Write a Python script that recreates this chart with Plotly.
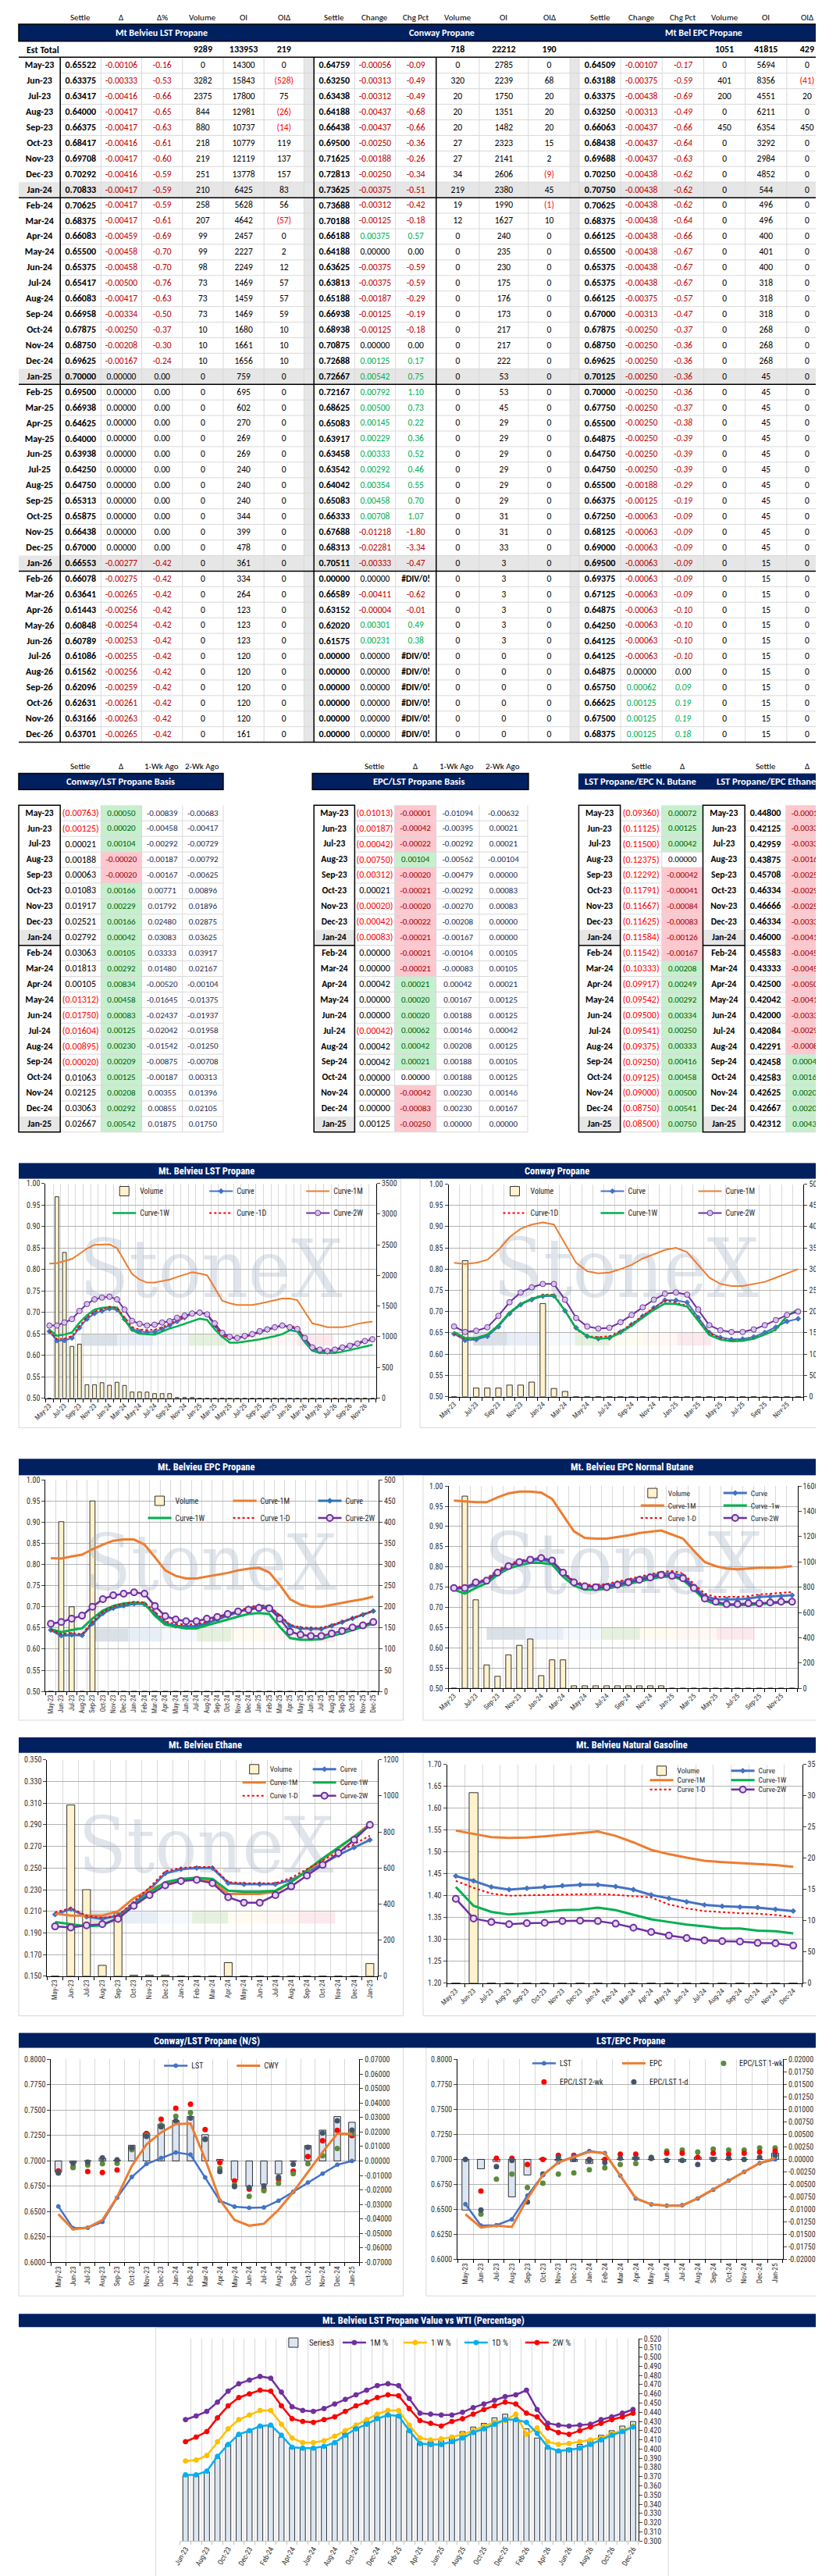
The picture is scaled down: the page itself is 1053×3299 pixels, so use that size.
import plotly.graph_objects as go

W, H = 1053, 3299
def fx(p): return p / W
def fy(p): return 1 - p / H

# ======================= DATA =======================
months = ["May-23","Jun-23","Jul-23","Aug-23","Sep-23","Oct-23","Nov-23","Dec-23",
          "Jan-24","Feb-24","Mar-24","Apr-24","May-24","Jun-24","Jul-24","Aug-24","Sep-24","Oct-24","Nov-24","Dec-24",
          "Jan-25","Feb-25","Mar-25","Apr-25","May-25","Jun-25","Jul-25","Aug-25","Sep-25","Oct-25","Nov-25","Dec-25",
          "Jan-26","Feb-26","Mar-26","Apr-26","May-26","Jun-26","Jul-26","Aug-26","Sep-26","Oct-26","Nov-26","Dec-26"]

est_lst = [9289, 133953, 219]
est_cwy = [718, 22212, 190]
est_epc = [1051, 41815, 429]

lst_settle = [0.65522,0.63375,0.63417,0.64000,0.66375,0.68417,0.69708,0.70292,0.70833,0.70625,0.68375,0.66083,0.65500,0.65375,0.65417,0.66083,0.66958,0.67875,0.68750,0.69625,0.70000,0.69500,0.66938,0.64625,0.64000,0.63938,0.64250,0.64750,0.65313,0.65875,0.66438,0.67000,0.66553,0.66078,0.63641,0.61443,0.60848,0.60789,0.61086,0.61562,0.62096,0.62631,0.63166,0.63701]
lst_chg = [-0.00106,-0.00333,-0.00416,-0.00417,-0.00417,-0.00416,-0.00417,-0.00416,-0.00417,-0.00417,-0.00417,-0.00459,-0.00458,-0.00458,-0.00500,-0.00417,-0.00334,-0.00250,-0.00208,-0.00167,
           0.0,0.0,0.0,0.0,0.0,0.0,0.0,0.0,0.0,0.0,0.0,0.0,
           -0.00277,-0.00275,-0.00265,-0.00256,-0.00254,-0.00253,-0.00255,-0.00256,-0.00259,-0.00261,-0.00263,-0.00265]
lst_pct = [-0.16,-0.53,-0.66,-0.65,-0.63,-0.61,-0.60,-0.59,-0.59,-0.59,-0.61,-0.69,-0.70,-0.70,-0.76,-0.63,-0.50,-0.37,-0.30,-0.24,
           0.0,0.0,0.0,0.0,0.0,0.0,0.0,0.0,0.0,0.0,0.0,0.0,
           -0.42,-0.42,-0.42,-0.42,-0.42,-0.42,-0.42,-0.42,-0.42,-0.42,-0.42,-0.42]
lst_vol = [0,3282,2375,844,880,218,219,251,210,258,207,99,99,98,73,73,73,10,10,10,
           0,0,0,0,0,0,0,0,0,0,0,0,0,0,0,0,0,0,0,0,0,0,0,0]
lst_oi = [14300,15843,17800,12981,10737,10779,12119,13778,6425,5628,4642,2457,2227,2249,1469,1459,1469,1680,1661,1656,
          759,695,602,270,269,269,240,240,240,344,399,478,361,334,264,123,123,123,120,120,120,120,120,161]
lst_oid = [0,-528,75,-26,-14,119,137,157,83,56,-57,0,2,12,57,57,59,10,10,10,
           0,0,0,0,0,0,0,0,0,0,0,0,0,0,0,0,0,0,0,0,0,0,0,0]

cwy_settle = [0.64759,0.63250,0.63438,0.64188,0.66438,0.69500,0.71625,0.72813,0.73625,0.73688,0.70188,0.66188,0.64188,0.63625,0.63813,0.65188,0.66938,0.68938,0.70875,0.72688,
              0.72667,0.72167,0.68625,0.65083,0.63917,0.63458,0.63542,0.64042,0.65083,0.66333,0.67688,0.68313,0.70511,0.00000,0.66589,0.63152,0.62020,0.61575,0.0,0.0,0.0,0.0,0.0,0.0]
cwy_chg = [-0.00056,-0.00313,-0.00312,-0.00437,-0.00437,-0.00250,-0.00188,-0.00250,-0.00375,-0.00312,-0.00125,0.00375,0.00000,-0.00375,-0.00375,-0.00187,-0.00125,-0.00125,0.00000,0.00125,
           0.00542,0.00792,0.00500,0.00145,0.00229,0.00333,0.00292,0.00354,0.00458,0.00708,-0.01218,-0.02281,-0.00333,0.00000,-0.00411,-0.00004,0.00301,0.00231,0.0,0.0,0.0,0.0,0.0,0.0]
cwy_pct = [-0.09,-0.49,-0.49,-0.68,-0.66,-0.36,-0.26,-0.34,-0.51,-0.42,-0.18,0.57,0.00,-0.59,-0.59,-0.29,-0.19,-0.18,0.00,0.17,
           0.75,1.10,0.73,0.22,0.36,0.52,0.46,0.55,0.70,1.07,-1.80,-3.34,-0.47,None,-0.62,-0.01,0.49,0.38,None,None,None,None,None,None]
cwy_vol = [0,320,20,20,20,27,27,34,219,19,12,0,0,0,0,0,0,0,0,0,0,0,0,0,0,0,0,0,0,0,0,0,0,0,0,0,0,0,0,0,0,0,0,0]
cwy_oi = [2785,2239,1750,1351,1482,2323,2141,2606,2380,1990,1627,240,235,230,175,176,173,217,217,222,
          53,53,45,29,29,29,29,29,29,31,31,33,3,3,3,3,3,3,0,0,0,0,0,0]
cwy_oid = [0,68,20,20,20,15,2,-9,45,-1,10,0,0,0,0,0,0,0,0,0,0,0,0,0,0,0,0,0,0,0,0,0,0,0,0,0,0,0,0,0,0,0,0,0]

epc_settle = [0.64509,0.63188,0.63375,0.63250,0.66063,0.68438,0.69688,0.70250,0.70750,0.70625,0.68375,0.66125,0.65500,0.65375,0.65375,0.66125,0.67000,0.67875,0.68750,0.69625,
              0.70125,0.70000,0.67750,0.65500,0.64875,0.64750,0.64750,0.65500,0.66375,0.67250,0.68125,0.69000,0.69500,0.69375,0.67125,0.64875,0.64250,0.64125,0.64125,0.64875,0.65750,0.66625,0.67500,0.68375]
epc_chg = [-0.00107,-0.00375,-0.00438,-0.00313,-0.00437,-0.00437,-0.00437,-0.00438,-0.00438,-0.00438,-0.00438,-0.00438,-0.00438,-0.00438,-0.00438,-0.00375,-0.00313,-0.00250,-0.00250,-0.00250,
           -0.00250,-0.00250,-0.00250,-0.00250,-0.00250,-0.00250,-0.00250,-0.00188,-0.00125,-0.00063,-0.00063,-0.00063,-0.00063,-0.00063,-0.00063,-0.00063,-0.00063,-0.00063,-0.00063,0.00000,0.00062,0.00125,0.00125,0.00125]
epc_pct = [-0.17,-0.59,-0.69,-0.49,-0.66,-0.64,-0.63,-0.62,-0.62,-0.62,-0.64,-0.66,-0.67,-0.67,-0.67,-0.57,-0.47,-0.37,-0.36,-0.36,
           -0.36,-0.36,-0.37,-0.38,-0.39,-0.39,-0.39,-0.29,-0.19,-0.09,-0.09,-0.09,-0.09,-0.09,-0.09,-0.10,-0.10,-0.10,-0.10,0.00,0.09,0.19,0.19,0.18]
epc_vol = [0,401,200,0,450,0,0,0,0,0,0,0,0,0,0,0,0,0,0,0,0,0,0,0,0,0,0,0,0,0,0,0,0,0,0,0,0,0,0,0,0,0,0,0]
epc_oi = [5694,8356,4551,6211,6354,3292,2984,4852,544,496,496,400,401,400,318,318,318,268,268,268,
          45,45,45,45,45,45,45,45,45,45,45,45,15,15,15,15,15,15,15,15,15,15,15,15]
epc_oid = [0,-41,20,0,450,0,0,0,0,0,0,0,0,0,0,0,0,0,0,0,0,0,0,0,0,0,0,0,0,0,0,0,0,0,0,0,0,0,0,0,0,0,0,0]

# ---- basis tables (May-23 .. Jan-25) ----
bm = months[:21]
cl_settle = [-0.00763,-0.00125,0.00021,0.00188,0.00063,0.01083,0.01917,0.02521,0.02792,0.03063,0.01813,0.00105,-0.01312,-0.01750,-0.01604,-0.00895,-0.00020,0.01063,0.02125,0.03063,0.02667]
cl_delta = [0.00050,0.00020,0.00104,-0.00020,-0.00020,0.00166,0.00229,0.00166,0.00042,0.00105,0.00292,0.00834,0.00458,0.00083,0.00125,0.00230,0.00209,0.00125,0.00208,0.00292,0.00542]
cl_1wk = [-0.00839,-0.00458,-0.00292,-0.00187,-0.00167,0.00771,0.01792,0.02480,0.03083,0.03333,0.01480,-0.00520,-0.01645,-0.02437,-0.02042,-0.01542,-0.00875,-0.00187,0.00355,0.00855,0.01875]
cl_2wk = [-0.00683,-0.00417,-0.00729,-0.00792,-0.00625,0.00896,0.01896,0.02875,0.03625,0.03917,0.02167,-0.00104,-0.01375,-0.01937,-0.01958,-0.01250,-0.00708,0.00313,0.01396,0.02105,0.01750]

el_settle = [-0.01013,-0.00187,-0.00042,-0.00750,-0.00312,0.00021,-0.00020,-0.00042,-0.00083,0.00000,0.00000,0.00042,0.00000,0.00000,-0.00042,0.00042,0.00042,0.00000,0.00000,0.00000,0.00125]
el_delta = [-0.00001,-0.00042,-0.00022,0.00104,-0.00020,-0.00021,-0.00020,-0.00022,-0.00021,-0.00021,-0.00021,0.00021,0.00020,0.00020,0.00062,0.00042,0.00021,0.00000,-0.00042,-0.00083,-0.00250]
el_1wk = [-0.01094,-0.00395,-0.00292,-0.00562,-0.00479,-0.00292,-0.00270,-0.00208,-0.00167,-0.00104,-0.00083,0.00042,0.00167,0.00188,0.00146,0.00208,0.00188,0.00188,0.00230,0.00230,0.00000]
el_2wk = [-0.00632,0.00021,0.00021,-0.00104,0.00000,0.00083,0.00083,0.00000,0.00000,0.00105,0.00105,0.00021,0.00125,0.00125,0.00042,0.00125,0.00105,0.00125,0.00146,0.00167,0.00000]

nb_settle = [-0.09360,-0.11125,-0.11500,-0.12375,-0.12292,-0.11791,-0.11667,-0.11625,-0.11584,-0.11542,-0.10333,-0.09917,-0.09542,-0.09500,-0.09541,-0.09375,-0.09250,-0.09125,-0.09000,-0.08750,-0.08500]
nb_delta = [0.00072,0.00125,0.00042,0.00000,-0.00042,-0.00041,-0.00084,-0.00083,-0.00126,-0.00167,0.00208,0.00249,0.00292,0.00334,0.00250,0.00333,0.00416,0.00458,0.00500,0.00541,0.00750]
et_settle = [0.44800,0.42125,0.42959,0.43875,0.45708,0.46334,0.46666,0.46334,0.46000,0.45583,0.43333,0.42500,0.42042,0.42000,0.42084,0.42291,0.42458,0.42583,0.42625,0.42667,0.42312]
et_delta = [-0.00013,-0.00333,-0.00332,-0.00167,-0.00251,-0.00291,-0.00251,-0.00332,-0.00417,-0.00459,-0.00459,-0.00500,-0.00416,-0.00333,-0.00291,-0.00084,0.00041,0.00166,0.00209,0.00208,0.00437]

# ---- chart A: Mt. Belvieu LST Propane (44 months) ----
lst_1d = [0.65628,0.63708,0.63833,0.64417,0.66792,0.68833,0.70125,0.70708,0.71250,0.71042,0.68792,0.66542,0.65958,0.65833,0.65917,0.66500,0.67292,0.68125,0.68958,0.69792,
          0.70000,0.69500,0.66938,0.64625,0.64000,0.63938,0.64250,0.64750,0.65313,0.65875,0.66438,0.67000,0.66830,0.66353,0.63906,0.61699,0.61102,0.61042,0.61341,0.61818,0.62355,0.62892,0.63429,0.63966]
lst_1w = [0.659,0.645,0.648,0.653,0.676,0.693,0.706,0.710,0.712,0.711,0.682,0.658,0.650,0.649,0.648,0.655,0.662,0.667,0.673,0.679,
          0.685,0.682,0.660,0.643,0.629,0.629,0.631,0.634,0.637,0.640,0.644,0.649,0.658,0.655,0.630,0.610,0.605,0.605,0.605,0.608,0.612,0.616,0.620,0.624]
lst_2w = [0.669,0.669,0.676,0.684,0.703,0.719,0.730,0.734,0.736,0.730,0.706,0.680,0.673,0.669,0.671,0.676,0.679,0.687,0.692,0.697,
          0.699,0.695,0.674,0.652,0.643,0.640,0.645,0.649,0.656,0.660,0.665,0.669,0.665,0.661,0.640,0.618,0.613,0.610,0.613,0.618,0.622,0.627,0.633,0.637]
lst_1m = [0.813,0.814,0.819,0.824,0.836,0.848,0.857,0.858,0.858,0.849,0.820,0.789,0.776,0.769,0.769,0.772,0.776,0.782,0.788,0.793,
          0.790,0.786,0.757,0.727,0.721,0.717,0.717,0.717,0.720,0.724,0.728,0.732,0.732,0.728,0.701,0.674,0.670,0.665,0.665,0.665,0.668,0.673,0.676,0.678]

# ---- chart B: Conway Propane (32 months) ----
cwy_1d = [0.64815,0.63563,0.63750,0.64625,0.66875,0.69750,0.71813,0.73063,0.74000,0.74000,0.70313,0.65813,0.64188,0.64000,0.64188,0.65375,
          0.67063,0.69063,0.70875,0.72563,0.72125,0.71375,0.68125,0.64938,0.63688,0.63125,0.63250,0.63688,0.64625,0.65625,0.68906,0.70594]
cwy_1w = [0.652,0.638,0.638,0.646,0.668,0.698,0.718,0.730,0.738,0.738,0.702,0.660,0.642,0.636,0.638,0.650,
          0.667,0.686,0.704,0.719,0.718,0.712,0.678,0.645,0.634,0.630,0.631,0.636,0.646,0.658,0.690,0.705]
cwy_2w = [0.665,0.652,0.655,0.663,0.690,0.722,0.745,0.757,0.765,0.765,0.728,0.685,0.665,0.660,0.662,0.675,
          0.692,0.710,0.728,0.742,0.745,0.740,0.705,0.668,0.656,0.652,0.652,0.658,0.668,0.680,0.692,0.700]
cwy_1m = [0.815,0.812,0.815,0.822,0.845,0.875,0.895,0.905,0.910,0.905,0.860,0.815,0.795,0.790,0.792,0.800,
          0.810,0.825,0.835,0.845,0.850,0.840,0.810,0.780,0.765,0.760,0.760,0.765,0.770,0.780,0.790,0.800]

# ---- chart C: Mt. Belvieu EPC Propane (32 months) ----
epc_1d = [0.64616,0.63563,0.63813,0.63563,0.66500,0.68875,0.70125,0.70688,0.71188,0.71063,0.68813,0.66563,0.65938,0.65813,0.65813,0.66500,
          0.67313,0.68125,0.69000,0.69875,0.70375,0.70250,0.68000,0.65750,0.65125,0.65000,0.65000,0.65688,0.66500,0.67313,0.68188,0.69063]
epc_1w = [0.647,0.640,0.645,0.649,0.672,0.691,0.702,0.708,0.710,0.708,0.679,0.658,0.653,0.649,0.649,0.656,
          0.664,0.670,0.677,0.683,0.685,0.683,0.653,0.626,0.622,0.622,0.624,0.631,0.637,0.645,0.653,0.660]
epc_2w = [0.660,0.664,0.672,0.679,0.700,0.718,0.727,0.731,0.734,0.731,0.702,0.678,0.670,0.666,0.666,0.672,
          0.676,0.683,0.689,0.693,0.697,0.696,0.672,0.641,0.634,0.631,0.631,0.637,0.643,0.651,0.656,0.664]
epc_1m = [0.815,0.814,0.819,0.823,0.836,0.847,0.856,0.859,0.859,0.847,0.817,0.786,0.773,0.767,0.767,0.771,
          0.775,0.780,0.786,0.790,0.792,0.781,0.752,0.718,0.705,0.700,0.700,0.705,0.710,0.714,0.718,0.724]

# ---- chart D: Mt. Belvieu EPC Normal Butane (32 months) ----
nb_curve = [0.748,0.746,0.756,0.768,0.788,0.802,0.812,0.816,0.818,0.812,0.784,0.762,0.752,0.752,0.754,0.760,
            0.766,0.772,0.778,0.784,0.784,0.778,0.752,0.728,0.720,0.720,0.720,0.722,0.726,0.727,0.728,0.730]
nb_1d = [0.752,0.750,0.760,0.772,0.792,0.806,0.816,0.820,0.822,0.816,0.788,0.766,0.756,0.756,0.758,0.764,
         0.770,0.776,0.782,0.788,0.790,0.784,0.758,0.734,0.726,0.726,0.726,0.728,0.732,0.734,0.736,0.738]
nb_1w = [0.744,0.734,0.748,0.760,0.780,0.796,0.804,0.810,0.810,0.806,0.776,0.754,0.744,0.744,0.746,0.752,
         0.758,0.764,0.770,0.776,0.776,0.768,0.744,0.718,0.708,0.706,0.706,0.706,0.708,0.710,0.712,0.714]
nb_2w = [0.748,0.748,0.762,0.766,0.786,0.802,0.812,0.818,0.822,0.816,0.786,0.762,0.752,0.750,0.750,0.756,
         0.762,0.768,0.774,0.780,0.778,0.772,0.748,0.722,0.714,0.708,0.708,0.710,0.710,0.712,0.714,0.714]
nb_1m = [0.964,0.962,0.960,0.960,0.972,0.982,0.986,0.986,0.984,0.968,0.928,0.888,0.872,0.870,0.870,0.874,
         0.878,0.884,0.887,0.890,0.880,0.870,0.840,0.812,0.802,0.796,0.794,0.796,0.798,0.798,0.799,0.802]
nb_vol = [0,1520,700,185,95,265,340,390,100,225,225,20,20,20,20,20,20,20,20,20,0,0,0,0,0,0,0,0,0,0,0,0]

# ---- chart E: Mt. Belvieu Ethane (21 months) ----
eth_curve = [0.207,0.212,0.205,0.203,0.206,0.217,0.230,0.245,0.249,0.250,0.250,0.236,0.235,0.235,0.235,0.239,0.246,0.254,0.262,0.269,0.276]
eth_1d = [0.209,0.213,0.206,0.204,0.206,0.219,0.232,0.247,0.250,0.251,0.251,0.237,0.236,0.236,0.236,0.241,0.249,0.257,0.265,0.272,0.280]
eth_1w = [0.200,0.198,0.196,0.197,0.204,0.215,0.227,0.237,0.240,0.241,0.240,0.229,0.228,0.228,0.229,0.237,0.248,0.259,0.269,0.279,0.289]
eth_2w = [0.196,0.195,0.197,0.198,0.203,0.215,0.225,0.234,0.238,0.239,0.236,0.223,0.218,0.218,0.225,0.233,0.243,0.253,0.264,0.276,0.290]
eth_1m = [0.208,0.206,0.206,0.206,0.210,0.222,0.230,0.236,0.239,0.240,0.238,0.226,0.226,0.226,0.228,0.237,0.247,0.258,0.268,0.279,0.291]
eth_vol = [0,950,480,60,350,5,5,5,0,0,0,75,0,0,0,0,0,0,0,0,70]

# ---- chart F: Mt. Belvieu Natural Gasoline (20 months) ----
ng_curve = [1.445,1.434,1.420,1.414,1.417,1.420,1.423,1.425,1.425,1.421,1.414,1.402,1.394,1.386,1.379,1.376,1.374,1.373,1.369,1.365]
ng_1d = [1.434,1.418,1.405,1.400,1.401,1.402,1.403,1.404,1.404,1.402,1.399,1.396,1.380,1.371,1.365,1.362,1.360,1.359,1.356,1.351]
ng_1w = [1.420,1.377,1.363,1.357,1.360,1.363,1.367,1.368,1.373,1.367,1.356,1.346,1.340,1.334,1.330,1.325,1.325,1.320,1.319,1.314]
ng_2w = [1.393,1.348,1.340,1.335,1.337,1.338,1.342,1.343,1.342,1.336,1.327,1.317,1.309,1.303,1.298,1.296,1.295,1.292,1.291,1.286]
ng_1m = [1.549,1.542,1.534,1.532,1.533,1.536,1.540,1.544,1.547,1.537,1.522,1.505,1.495,1.487,1.480,1.477,1.475,1.473,1.470,1.466]
ng_vol = [0,305,0,0,0,0,0,0,0,0,0,0,0,0,0,0,0,0,0,0]

# ---- chart G: Conway/LST (N/S) dots ----
cl_1d = [-0.00813,-0.00145,-0.00083,0.00208,0.00083,0.00917,0.01688,0.02355,0.02750,0.02958,0.01521,-0.00729,-0.01770,-0.01833,-0.01729,-0.01125,-0.00229,0.00938,0.01917,0.02771,0.02125]

# ---- chart H: LST/EPC dots (plotted one month later) ----
el_1d_plot = [0.0,-0.01012,-0.00145,-0.00020,-0.00854,-0.00292,0.00042,0.00000,-0.00020,-0.00062,0.00021,0.00021,0.00021,-0.00020,-0.00020,-0.00104,0.00000,0.00021,0.00000,0.00042,0.00083]
el_1w_plot = [None,-0.01094,-0.00395,-0.00292,-0.00562,-0.00479,-0.00292,-0.00270,-0.00208,-0.00167,-0.00104,-0.00083,0.00042,0.00167,0.00188,0.00146,0.00208,0.00188,0.00188,0.00230,0.00230]
el_2w_plot = [None,-0.00632,0.00021,0.00021,-0.00104,0.00000,0.00083,0.00083,0.00000,0.00000,0.00105,0.00105,0.00021,0.00125,0.00125,0.00042,0.00125,0.00105,0.00125,0.00146,0.00167]

# ---- chart I: LST Propane value vs WTI (Jun-23 .. Dec-26) ----
wti_months = months[1:]
wti_bar = [0.371,0.371,0.375,0.390,0.405,0.415,0.420, 0.425,0.425,0.413,0.402,0.400,0.400,0.402,0.407,0.417,0.423,0.430,0.435,
           0.438,0.437,0.420,0.407,0.408,0.409,0.412,0.419,0.424,0.428,0.434,0.438, 0.432,0.422,0.412,0.402,0.399,0.401,0.405,0.410,0.415,0.420,0.425,0.430]
wti_1m = [0.432,0.436,0.441,0.451,0.463,0.471,0.475, 0.479,0.477,0.462,0.446,0.442,0.441,0.444,0.449,0.454,0.459,0.464,0.469,
          0.471,0.469,0.455,0.439,0.438,0.437,0.437,0.440,0.445,0.449,0.453,0.457, 0.459,0.464,0.443,0.428,0.426,0.425,0.426,0.427,0.432,0.435,0.439,0.443]
wti_1w = [0.387,0.388,0.393,0.408,0.422,0.432,0.437, 0.442,0.442,0.427,0.412,0.407,0.407,0.409,0.414,0.420,0.426,0.432,0.438,
          0.442,0.442,0.426,0.412,0.410,0.411,0.413,0.416,0.420,0.425,0.429,0.431, 0.438,0.416,0.423,0.408,0.405,0.406,0.408,0.410,0.412,0.417,0.420,0.425]
wti_1d = [0.372,0.372,0.376,0.392,0.405,0.416,0.420, 0.425,0.426,0.415,0.402,0.401,0.401,0.403,0.407,0.415,0.422,0.427,0.433,
          0.437,0.436,0.420,0.406,0.405,0.405,0.408,0.412,0.418,0.422,0.427,0.432, 0.432,0.429,0.417,0.402,0.398,0.399,0.401,0.405,0.410,0.415,0.419,0.424]
wti_2w = [0.408,0.413,0.419,0.434,0.447,0.456,0.460, 0.464,0.463,0.447,0.433,0.430,0.429,0.432,0.435,0.441,0.447,0.451,0.456,
          0.459,0.458,0.444,0.431,0.428,0.425,0.430,0.433,0.438,0.443,0.447,0.451, 0.449,0.439,0.435,0.423,0.418,0.416,0.420,0.424,0.428,0.432,0.435,0.439]

# ======================= STYLE =======================
NAVY = "#002060"
TFONT = "Carlito, Calibri, Roboto, sans-serif"
CFONT = "'Liberation Sans Narrow', 'Roboto Condensed', Roboto, sans-serif"
RED, GREEN, BLK = "#c00000", "#00b050", "#000000"
GREY = "#e7e6e6"
GRID = "#d9d9d9"
C_BLUE, C_ORANGE, C_GREEN, C_RED, C_PURPLE = "#4472c4", "#ed7d31", "#00b050", "#ff0000", "#7030a0"

shapes, annotations, traces = [], [], []
layout_axes, legends = {}, {}

def ann(text, x, y, size=11, color="black", bold=False, xanchor="center", family=TFONT):
    annotations.append(dict(text=f"<b>{text}</b>" if bold else text, x=fx(x), y=fy(y), xref="paper", yref="paper",
                            showarrow=False, xanchor=xanchor, yanchor="middle",
                            font=dict(size=size, color=color, family=family)))

def rect(x0, y0, x1, y1, fill=None, line=None, lw=1, layer="above"):
    shapes.append(dict(type="rect", xref="paper", yref="paper", x0=fx(x0), x1=fx(x1), y0=fy(y1), y1=fy(y0),
                       fillcolor=fill or "rgba(0,0,0,0)",
                       line=dict(color=line or "rgba(0,0,0,0)", width=lw if line else 0), layer=layer))

def seg(x0, y0, x1, y1, color="black", lw=1.5, layer="above"):
    shapes.append(dict(type="line", xref="paper", yref="paper", x0=fx(x0), y0=fy(y0), x1=fx(x1), y1=fy(y1),
                       line=dict(color=color, width=lw), layer=layer))

def sgn(v, pos=GREEN, neg=RED):
    return neg if v < 0 else (pos if v > 0 else BLK)

def oi_txt(v):
    return f"({abs(v)})" if v < 0 else f"{v}"

# text cells drawn on a hidden pixel-scaled subplot
cx, cy, ct, cc, cs = [], [], [], [], []
def cell(x, y, text, color=BLK, size=11.5):
    cx.append(x); cy.append(y); ct.append(text); cc.append(color); cs.append(size)

# ======================= TOP TABLE =======================
n = len(months)
jan_rows = [i for i, m in enumerate(months) if m.startswith("Jan")]
cols, fcols, gaps, sizes = [], [], [], []
def addcol(vals, colors, gap=False, size=11.5):
    cols.append(vals); fcols.append(colors); gaps.append(gap); sizes.append(size)

addcol([f"<b>{m}</b>" for m in months], [BLK] * n, size=12)
addcol([f"<b>{v:.5f}</b>" for v in lst_settle], [BLK] * n, size=12)
addcol([f"{v:.5f}" for v in lst_chg], [sgn(v) for v in lst_chg])
addcol([f"{v:.2f}" for v in lst_pct], [sgn(v) for v in lst_pct])
addcol([str(v) for v in lst_vol], [BLK] * n)
addcol([str(v) for v in lst_oi], [BLK] * n)
addcol([oi_txt(v) for v in lst_oid], ["#ff0000" if v < 0 else BLK for v in lst_oid])
addcol([""] * n, [BLK] * n, True)
addcol([f"<b>{v:.5f}</b>" for v in cwy_settle], [BLK] * n, size=12)
addcol([f"{v:.5f}" for v in cwy_chg], [sgn(v) for v in cwy_chg])
addcol(["<b>#DIV/0!</b>" if v is None else f"{v:.2f}" for v in cwy_pct], [BLK if v is None else sgn(v) for v in cwy_pct])
addcol([str(v) for v in cwy_vol], [BLK] * n)
addcol([str(v) for v in cwy_oi], [BLK] * n)
addcol([oi_txt(v) for v in cwy_oid], ["#ff0000" if v < 0 else BLK for v in cwy_oid])
addcol([""] * n, [BLK] * n, True)
addcol([f"<b>{v:.5f}</b>" for v in epc_settle], [BLK] * n, size=12)
addcol([f"{v:.5f}" for v in epc_chg], [sgn(v) for v in epc_chg])
addcol([f"<i>{v:.2f}</i>" for v in epc_pct], [sgn(v) for v in epc_pct])
addcol([str(v) for v in epc_vol], [BLK] * n)
addcol([str(v) for v in epc_oi], [BLK] * n)
addcol([oi_txt(v) for v in epc_oid], ["#ff0000" if v < 0 else BLK for v in epc_oid])

colw = [54, 53, 53, 53, 53, 53, 52, 13, 53, 53, 53, 56, 64, 54, 12, 54, 54, 54, 54, 54, 53]
edges = [0]
for w_ in colw:
    edges.append(edges[-1] + w_)
ROW0, RH = 60, 20

# backgrounds
for r in jan_rows:
    rect(0, ROW0 + RH * r, edges[-1], ROW0 + RH * (r + 1), fill=GREY, layer="below")
for c, g in enumerate(gaps):
    if g:
        rect(edges[c], ROW0, edges[c + 1], ROW0 + RH * n, fill=GREY, layer="below")
# light grid
for r in range(1, n):
    seg(edges[1], ROW0 + RH * r, edges[-1], ROW0 + RH * r, color=GRID, lw=1, layer="below")
for c in range(2, len(edges)):
    if edges[c] not in (384, 543):
        seg(edges[c], ROW0, edges[c], ROW0 + RH * n, color=GRID, lw=1, layer="below")
# cell texts
for c, vals in enumerate(cols):
    xc = (edges[c] + edges[c + 1]) / 2
    for r, t in enumerate(vals):
        if t:
            cell(xc, ROW0 + RH * r + 10.5, t, fcols[c][r], sizes[c])
est_cells = [(4, est_lst[0]), (5, est_lst[1]), (6, est_lst[2]), (11, est_cwy[0]), (12, est_cwy[1]), (13, est_cwy[2]),
             (18, est_epc[0]), (19, est_epc[1]), (20, est_epc[2])]
for c, v in est_cells:
    cell((edges[c] + edges[c + 1]) / 2, 50, f"<b>{v}</b>", BLK, 12)

labels_top = ["", "Settle", "Δ", "Δ%", "Volume", "OI", "OIΔ", "", "Settle", "Change", "Chg Pct", "Volume", "OI", "OIΔ", "",
              "Settle", "Change", "Chg Pct", "Volume", "OI", "OIΔ"]
for i, lab in enumerate(labels_top):
    if lab:
        ann(lab, (edges[i] + edges[i + 1]) / 2, 9, size=11)
rect(0, 17, 1053, 39, fill=NAVY, line="black", lw=1.5)
ann("Mt Belvieu LST Propane", 186, 28, size=12, color="white", bold=True)
ann("Conway Propane", 550, 28, size=12, color="white", bold=True)
ann("Mt Bel EPC Propane", 891, 28, size=12, color="white", bold=True)
ann("Est Total", 8, 50, size=12, bold=True, xanchor="left")
for yy in [59.5, 240, 480, 720, 940]:
    seg(0, yy, 1052, yy)
for xx in [54, 384, 543]:
    seg(xx, 59.5, xx, 940)

# ======================= BASIS TABLES =======================
bn = len(bm)
jan_b = [i for i, m in enumerate(bm) if m.startswith("Jan")]
def paren(v): return f"({abs(v):.5f})" if v < 0 else f"{v:.5f}"
def pcol(v): return "#ff0000" if v < 0 else BLK
def dfill(v): return "#c6efce" if v > 0 else ("#ffc7ce" if v < 0 else None)
def dfont(v): return "#006100" if v > 0 else ("#9c0006" if v < 0 else BLK)
NAVYT = "#1f2d4d"
BROW0 = 1021

def basis_block(e, columns, fonts, fillcols, sizes_, label_cols):
    # e: column edges
    for c in range(len(columns)):
        if c in label_cols:
            for r in jan_b:
                rect(e[c], BROW0 + RH * r, e[c + 1], BROW0 + RH * (r + 1), fill=GREY, layer="below")
        elif fillcols[c] is not None:
            for r in range(bn):
                fc = fillcols[c][r]
                if fc:
                    rect(e[c], BROW0 + RH * r, e[c + 1], BROW0 + RH * (r + 1), fill=fc, layer="below")
    for c in range(len(columns)):
        if c in label_cols:
            continue
        for r in range(1, bn + 1):
            seg(e[c], BROW0 + RH * r, e[c + 1], BROW0 + RH * r, color=GRID, lw=1, layer="below")
        seg(e[c + 1], BROW0, e[c + 1], BROW0 + RH * bn, color=GRID, lw=1, layer="below")
    for c, vals in enumerate(columns):
        xc = (e[c] + e[c + 1]) / 2
        for r, t in enumerate(vals):
            cell(xc, BROW0 + RH * r + 10.5, t, fonts[c][r], sizes_[c])
    for c in label_cols:
        rect(e[c], BROW0, e[c + 1], BROW0 + RH * bn, line="black", lw=1.5)
        seg(e[c], BROW0 + RH * 9, e[c + 1], BROW0 + RH * 9)

lab_vals = [f"<b>{m}</b>" for m in bm]
basis_block([0, 54, 107, 160, 213, 266],
            [lab_vals, [paren(v) for v in cl_settle], [f"{v:.5f}" for v in cl_delta],
             [f"{v:.5f}" for v in cl_1wk], [f"{v:.5f}" for v in cl_2wk]],
            [[BLK] * bn, [pcol(v) for v in cl_settle], [dfont(v) for v in cl_delta], [NAVYT] * bn, [NAVYT] * bn],
            [None, None, [dfill(v) for v in cl_delta], None, None], [11.5, 12, 11, 11, 11], [0])
basis_block([384, 437, 489, 543, 599, 662],
            [lab_vals, [paren(v) for v in el_settle], [f"{v:.5f}" for v in el_delta],
             [f"{v:.5f}" for v in el_1wk], [f"{v:.5f}" for v in el_2wk]],
            [[BLK] * bn, [pcol(v) for v in el_settle], [dfont(v) for v in el_delta], [NAVYT] * bn, [NAVYT] * bn],
            [None, None, [dfill(v) for v in el_delta], None, None], [11.5, 12, 11, 11, 11], [0])
basis_block([728.5, 782.5, 836.5, 890, 944.5, 998, 1052],
            [lab_vals, [paren(v) for v in nb_settle], [f"{v:.5f}" for v in nb_delta],
             lab_vals, [f"<b>{v:.5f}</b>" for v in et_settle], [f"{v:.5f}" for v in et_delta]],
            [[BLK] * bn, [pcol(v) for v in nb_settle], [dfont(v) for v in nb_delta],
             [BLK] * bn, [BLK] * bn, [dfont(v) for v in et_delta]],
            [None, None, [dfill(v) for v in nb_delta], None, None, [dfill(v) for v in et_delta]],
            [11.5, 12, 11, 11.5, 12, 11], [0, 3])

rect(0, 980, 266, 1001, fill=NAVY, line="black", lw=1.5)
rect(382, 980, 663, 1001, fill=NAVY, line="black", lw=1.5)
rect(728, 980, 1053, 1001, fill=NAVY)
ann("Conway/LST Propane Basis", 133, 990.5, size=12.5, color="white", bold=True)
ann("EPC/LST Propane Basis", 520, 990.5, size=12.5, color="white", bold=True)
ann("LST Propane/EPC N. Butane", 809, 990.5, size=12.5, color="white", bold=True)
ann("LST Propane/EPC Ethane", 972, 990.5, size=12.5, color="white", bold=True)
for lab, xx in [("Settle", 80), ("Δ", 133), ("1-Wk Ago", 186), ("2-Wk Ago", 239),
                ("Settle", 463), ("Δ", 516), ("1-Wk Ago", 570), ("2-Wk Ago", 630),
                ("Settle", 810), ("Δ", 863), ("Settle", 972), ("Δ", 1026)]:
    ann(lab, xx, 971, size=11)

# hidden pixel subplot for the table texts
layout_axes["xaxis10"] = dict(domain=[0, 1], anchor="y19", range=[0, W], visible=False, fixedrange=True)
layout_axes["yaxis19"] = dict(domain=[fy(1445), 1], anchor="x10", range=[1445, 0], visible=False, fixedrange=True)
traces.append(go.Scatter(x=cx, y=cy, text=ct, mode="text", textposition="middle center",
                         textfont=dict(family=TFONT, size=cs, color=cc), xaxis="x10", yaxis="y19",
                         showlegend=False, hoverinfo="skip", cliponaxis=False))

# ======================= CHARTS =======================
leg_counter = [0]
def new_legend(x, y, ew, size=10):
    leg_counter[0] += 1
    name = "legend" if leg_counter[0] == 1 else f"legend{leg_counter[0]}"
    legends[name] = dict(orientation="h", x=fx(x), y=fy(y), xanchor="left", yanchor="middle",
                         bgcolor="rgba(0,0,0,0)", borderwidth=0,
                         font=dict(family=CFONT, size=size, color="#262626"),
                         itemwidth=30, entrywidth=ew, entrywidthmode="pixels",
                         tracegroupgap=0, itemclick=False, itemdoubleclick=False)
    return name

def ticks_for(rng, d, fmt):
    k = int(round((rng[1] - rng[0]) / d))
    vals = []
    for i in range(k + 1):
        v = round(rng[0] + i * d, 6)
        if abs(v) < 1e-12:
            v = 0.0
        vals.append(v)
    if fmt == "d":
        txt = [f"{int(round(v))}" for v in vals]
    else:
        txt = [format(v, fmt) for v in vals]
    return vals, txt

def make_axes(k, cats, L, R, T, B, step, angle, rspec, lspec=None, xfont=9, xline="black"):
    nn = len(cats)
    xr = "x" if k == 1 else f"x{k}"
    yb, yo = 2 * k - 1, 2 * k
    ybr = "y" if yb == 1 else f"y{yb}"
    yor = f"y{yo}"
    layout_axes["xaxis" if k == 1 else f"xaxis{k}"] = dict(
        domain=[fx(L), fx(R)], anchor=ybr, range=[-0.5, nn - 0.5],
        tickmode="array", tickvals=list(range(0, nn, step)), ticktext=cats[::step],
        tickangle=angle, showgrid=False, zeroline=False, showline=True, linecolor=xline, linewidth=1,
        ticks="", tickfont=dict(size=xfont, family=CFONT, color="#333333"), fixedrange=True,
        minor=dict(tickmode="array", tickvals=[i + 0.5 for i in range(-1, nn)], showgrid=True,
                   gridcolor=GRID, gridwidth=1, ticks="outside", ticklen=4, tickcolor=xline))
    rv, rt = ticks_for(rspec["range"], rspec["dtick"], rspec["fmt"])
    layout_axes["yaxis" if yb == 1 else f"yaxis{yb}"] = dict(
        domain=[fy(B), fy(T)], anchor=xr, side="right", range=rspec["range"],
        tickmode="array", tickvals=rv, ticktext=rt, showgrid=rspec.get("grid", False),
        gridcolor="#b3b3b3", zeroline=False, showline=True, linecolor="black", linewidth=1,
        ticks="outside", ticklen=4, tickfont=dict(size=rspec.get("size", 10), family=CFONT, color="#333333"),
        fixedrange=True)
    if lspec:
        lv, lt = ticks_for(lspec["range"], lspec["dtick"], lspec["fmt"])
        layout_axes[f"yaxis{yo}"] = dict(
            overlaying=ybr, anchor=xr, side="left", range=lspec["range"],
            tickmode="array", tickvals=lv, ticktext=lt, showgrid=True,
            gridcolor="#b3b3b3", gridwidth=1.2, zeroline=False, showline=True, linecolor="black", linewidth=1,
            ticks="outside", ticklen=4, tickfont=dict(size=lspec.get("size", 10), family=CFONT, color="#333333"),
            fixedrange=True)
    return xr, ybr, yor

def bar(x, y, name, xr, yr, leg, color="#fff2cc", width=0.5, show=True):
    traces.append(go.Bar(x=x, y=y, name=name, marker=dict(color=color, line=dict(color="black", width=0.8)),
                         width=width, xaxis=xr, yaxis=yr, legend=leg, showlegend=show, hoverinfo="skip"))

def line(x, y, name, color, width, xr, yr, leg, dash=None, msym=None, msize=6, mfill=None, mline=None, mlw=1, show=True):
    kw = {}
    if msym:
        kw["marker"] = dict(symbol=msym, size=msize, color=mfill or color, line=dict(color=mline or color, width=mlw))
    traces.append(go.Scatter(x=x, y=y, name=name, mode="lines+markers" if msym else "lines",
                             line=dict(color=color, width=width, dash=dash), xaxis=xr, yaxis=yr,
                             legend=leg, showlegend=show, hoverinfo="skip", **kw))

def dots(x, y, name, color, xr, yr, leg, size=7, show=True):
    traces.append(go.Scatter(x=x, y=y, name=name, mode="markers", marker=dict(color=color, size=size),
                             xaxis=xr, yaxis=yr, legend=leg, showlegend=show, hoverinfo="skip"))

def watermark(xc, yc, xr, yr, size):
    traces.append(go.Scatter(x=[xc], y=[yc], mode="text", text=["StoneX"], showlegend=False, hoverinfo="skip",
                             textfont=dict(family="'DejaVu Serif Condensed', 'Liberation Serif', serif", size=size,
                                           color="rgba(160,174,195,0.33)"),
                             xaxis=xr, yaxis=yr))

BAND = ["#8497b0", "#b4c7e7", "#deebf7", "#a9d18e", "#fff2cc", "#fbe5d6", "#f4b6c2"]
def band(xr, yr, x0, x1, y0, y1):
    step_ = (x1 - x0) / len(BAND)
    for i, c in enumerate(BAND):
        shapes.append(dict(type="rect", xref=xr, yref=yr, x0=x0 + i * step_, x1=x0 + (i + 1) * step_,
                           y0=y0, y1=y1, fillcolor=c, opacity=0.3, line=dict(width=0), layer="below"))

def title_bar(y0, y1, items):
    rect(0, y0, 1053, y1, fill=NAVY)
    for text, xc in items:
        ann(text, xc, (y0 + y1) / 2, size=12.5, color="white", bold=True, family=CFONT)

PRICE = dict(range=[0.5, 1.0], dtick=0.05, fmt=".2f")

# ---------- Row 1 ----------
title_bar(1481, 1501, [("Mt. Belvieu LST Propane", 244), ("Conway Propane", 700)])
rect(0, 1501, 497, 1821, line=GRID, layer="below")
rect(522, 1501, 1053, 1821, line=GRID, layer="below")

xa = list(range(len(months)))
xr, yb, yo = make_axes(1, months, 35, 465, 1507, 1783, 2, -45, dict(range=[0, 3500], dtick=500, fmt="d"), PRICE)
la = new_legend(117, 1517, 79); lb = new_legend(117, 1545, 79)
bar(xa, lst_vol, "Volume", xr, yb, la)
watermark(21.5, 1980, xr, yb, 103)
band(xr, yo, 4.2, 37.8, 0.622, 0.65)
line(xa, lst_settle, "Curve", C_BLUE, 2, xr, yo, la, msym="diamond", msize=5)
line(xa, lst_1m, "Curve-1M", C_ORANGE, 2, xr, yo, la)
line(xa, lst_1w, "Curve-1W", C_GREEN, 2.5, xr, yo, lb)
line(xa, lst_1d, "Curve -1D", C_RED, 2, xr, yo, lb, dash="dot")
line(xa, lst_2w, "Curve-2W", C_PURPLE, 2, xr, yo, lb, msym="circle", msize=7, mfill="#d5c4e8", mline=C_PURPLE)

m32 = months[:32]
xb = list(range(32))
xr, yb, yo = make_axes(2, m32, 559, 1021, 1508, 1781, 2, -45, dict(range=[0, 500], dtick=50, fmt="d"), PRICE)
la = new_legend(625, 1517, 80); lb = new_legend(625, 1545, 80)
bar(xb, cwy_vol[:32], "Volume", xr, yb, la)
watermark(15.5, 282, xr, yb, 104)
band(xr, yo, 1.7, 23.2, 0.62, 0.65)
line(xb, cwy_settle[:32], "Curve", C_BLUE, 2, xr, yo, la, msym="diamond", msize=5)
line(xb, cwy_1m, "Curve-1M", C_ORANGE, 2, xr, yo, la)
line(xb, cwy_1d, "Curve-1D", C_RED, 2, xr, yo, lb, dash="dot")
line(xb, cwy_1w, "Curve-1W", C_GREEN, 2.5, xr, yo, lb)
line(xb, cwy_2w, "Curve-2W", C_PURPLE, 2, xr, yo, lb, msym="circle", msize=7, mfill="#d5c4e8", mline=C_PURPLE)

# ---------- Row 2 ----------
title_bar(1861, 1882, [("Mt. Belvieu EPC Propane", 244), ("Mt. Belvieu EPC Normal Butane", 798)])
rect(0, 1882, 500, 2197, line=GRID, layer="below")
rect(526, 1882, 1053, 2197, line=GRID, layer="below")

xr, yb, yo = make_axes(3, m32, 35, 468, 1888, 2160, 1, -90, dict(range=[0, 500], dtick=50, fmt="d"), PRICE, xfont=8.5)
la = new_legend(163, 1915, 64); lb = new_legend(163, 1937, 64)
bar(xb, epc_vol[:32], "Volume", xr, yb, la)
watermark(15.3, 285, xr, yb, 99)
band(xr, yo, 4.1, 27.3, 0.618, 0.649)
line(xb, epc_1m, "Curve-1M", C_ORANGE, 3, xr, yo, la)
line(xb, epc_settle[:32], "Curve", "#2e75b6", 3, xr, yo, la, msym="diamond", msize=5)
line(xb, epc_1w, "Curve-1W", C_GREEN, 3, xr, yo, lb)
line(xb, epc_1d, "Curve 1-D", C_RED, 2, xr, yo, lb, dash="dot")
line(xb, epc_2w, "Curve-2W", C_PURPLE, 2.5, xr, yo, lb, msym="circle", msize=8, mfill="#e4d8f0", mline=C_PURPLE, mlw=2)

xr, yb, yo = make_axes(4, m32, 559, 1013, 1896, 2156, 2, -45, dict(range=[0, 1600], dtick=200, fmt="d"), PRICE)
la = new_legend(804, 1905, 61, 9.5); lb = new_legend(804, 1921, 61, 9.5); lc = new_legend(804, 1937, 61, 9.5)
bar(xb, nb_vol, "Volume", xr, yb, la)
watermark(15.5, 923, xr, yb, 109)
band(xr, yo, 3.0, 27.6, 0.62, 0.65)
line(xb, nb_curve, "Curve", "#4472c4", 3, xr, yo, la, msym="diamond", msize=5)
line(xb, nb_1m, "Curve-1M", C_ORANGE, 3, xr, yo, lb)
line(xb, nb_1w, "Curve -1w", C_GREEN, 3, xr, yo, lb)
line(xb, nb_1d, "Curve 1-D", C_RED, 2, xr, yo, lc, dash="dot")
line(xb, nb_2w, "Curve-2W", C_PURPLE, 2.5, xr, yo, lc, msym="circle", msize=8, mfill="#e4d8f0", mline=C_PURPLE, mlw=2)

# ---------- Row 3 ----------
title_bar(2219, 2239, [("Mt. Belvieu Ethane", 243), ("Mt. Belvieu Natural Gasoline", 798)])
rect(0, 2239, 500, 2577, line=GRID, layer="below")
rect(526, 2239, 1053, 2577, line=GRID, layer="below")

m21 = months[:21]
x21 = list(range(21))
xr, yb, yo = make_axes(5, m21, 37, 467, 2248, 2526, 1, -90, dict(range=[0, 1200], dtick=200, fmt="d"),
                       dict(range=[0.15, 0.35], dtick=0.02, fmt=".3f"), xfont=9)
la = new_legend(286, 2260, 45, 9.5); lb = new_legend(286, 2277, 45, 9.5); lc = new_legend(286, 2294, 45, 9.5)
bar(x21, eth_vol, "Volume", xr, yb, la)
watermark(9.6, 682, xr, yb, 100)
band(xr, yo, 1.9, 17.8, 0.1986, 0.2096)
line(x21, eth_curve, "Curve", "#4472c4", 3, xr, yo, la, msym="diamond", msize=5)
line(x21, eth_1m, "Curve-1M", C_ORANGE, 3, xr, yo, lb)
line(x21, eth_1w, "Curve-1W", C_GREEN, 3, xr, yo, lb)
line(x21, eth_1d, "Curve 1-D", C_RED, 2, xr, yo, lc, dash="dot")
line(x21, eth_2w, "Curve-2W", C_PURPLE, 2.5, xr, yo, lc, msym="circle", msize=8, mfill="#e4d8f0", mline=C_PURPLE, mlw=2)

m20 = months[:20]
x20 = list(range(20))
xr, yb, yo = make_axes(6, m20, 557, 1019, 2254, 2535, 1, -45, dict(range=[0, 350], dtick=50, fmt="d"),
                       dict(range=[1.2, 1.7], dtick=0.05, fmt=".2f"), xfont=9)
la = new_legend(816, 2262, 59, 9.5); lb = new_legend(816, 2274, 59, 9.5); lc = new_legend(816, 2286, 59, 9.5)
bar(x20, ng_vol, "Volume", xr, yb, la)
line(x20, ng_curve, "Curve", "#4472c4", 3, xr, yo, la, msym="diamond", msize=5)
line(x20, ng_1m, "Curve-1M", C_ORANGE, 3, xr, yo, lb)
line(x20, ng_1w, "Curve-1W", C_GREEN, 3, xr, yo, lb)
line(x20, ng_1d, "Curve 1-D", C_RED, 2, xr, yo, lc, dash="dot")
line(x20, ng_2w, "Curve-2W", C_PURPLE, 2.5, xr, yo, lc, msym="circle", msize=8, mfill="#e4d8f0", mline=C_PURPLE, mlw=2)

# ---------- Row 4 ----------
title_bar(2599, 2618, [("Conway/LST Propane (N/S)", 245), ("LST/EPC Propane", 796)])
rect(0, 2618, 500, 2937, line=GRID, layer="below")
rect(530, 2618, 1053, 2937, line=GRID, layer="below")
BASIS_L = dict(range=[0.6, 0.8], dtick=0.025, fmt=".4f")

xr, yb, yo = make_axes(7, m21, 42, 443, 2633, 2894, 1, -90, dict(range=[-0.07, 0.07], dtick=0.01, fmt=".5f"),
                       BASIS_L, xfont=9.5)
la = new_legend(184, 2641, 48)
bar(x21, cl_settle, "Basis", xr, yb, la, color="#dce6f2", width=0.45, show=False)
dots(x21, cl_2wk, "2-wk", "#ff0000", xr, yb, la, show=False)
dots(x21, cl_1wk, "1-wk", "#5b8c3a", xr, yb, la, show=False)
dots(x21, cl_1d, "1-d", "#44546a", xr, yb, la, show=False)
line(x21, lst_settle[:21], "LST", C_BLUE, 2.5, xr, yo, la, msym="circle", msize=5)
line(x21, cwy_settle[:21], "CWY", C_ORANGE, 3, xr, yo, la)

xr, yb, yo = make_axes(8, m21, 571, 994, 2633, 2890, 1, -90, dict(range=[-0.02, 0.02], dtick=0.0025, fmt=".5f"),
                       BASIS_L, xfont=9.5)
la = new_legend(663, 2638, 70); lb = new_legend(663, 2662, 70)
bar(x21, el_settle, "Basis", xr, yb, la, color="#dce6f2", width=0.45, show=False)
line(x21, lst_settle[:21], "LST", C_BLUE, 2.5, xr, yo, la, msym="circle", msize=5)
line(x21, epc_settle[:21], "EPC", C_ORANGE, 3, xr, yo, la)
dots(x21, el_1w_plot, "EPC/LST 1-wk", "#5b8c3a", xr, yb, la)
dots(x21, el_2w_plot, "EPC/LST 2-wk", "#ff0000", xr, yb, lb)
dots(x21, el_1d_plot, "EPC/LST 1-d", "#44546a", xr, yb, lb)

# ---------- Row 5 ----------
title_bar(2960, 2977, [("Mt. Belvieu LST Propane Value vs WTI (Percentage)", 526)])
rect(178, 2978, 845, 3298, line=GRID, layer="below")
x43 = list(range(len(wti_months)))
xr, yb, yo = make_axes(9, wti_months, 210, 806, 2992, 3252, 2, -60, dict(range=[0.3, 0.52], dtick=0.01, fmt=".3f"),
                       None, xfont=9.5, xline="#bfbfbf")
la = new_legend(337, 2997, 33, 11)
bar(x43, wti_bar, "Series3", xr, yb, la, color="#dce6f2", width=0.5)
line(x43, wti_1m, "1M %", C_PURPLE, 2.5, xr, yb, la, msym="circle", msize=6)
line(x43, wti_1w, "1 W %", "#ffc000", 2.5, xr, yb, la, msym="circle", msize=6)
line(x43, wti_1d, "1D %", "#00b0f0", 2.5, xr, yb, la, msym="circle", msize=6)
line(x43, wti_2w, "2W %", "#ff0000", 2.5, xr, yb, la, msym="circle", msize=6)

# ======================= FIGURE =======================
fig = go.Figure(data=traces)
fig.update_layout(width=W, height=H, margin=dict(l=0, r=0, t=0, b=0, pad=0),
                  paper_bgcolor="white", plot_bgcolor="white", hovermode=False,
                  barmode="overlay", showlegend=True,
                  shapes=shapes, annotations=annotations, **layout_axes, **legends)
fig.write_html("out.html")
